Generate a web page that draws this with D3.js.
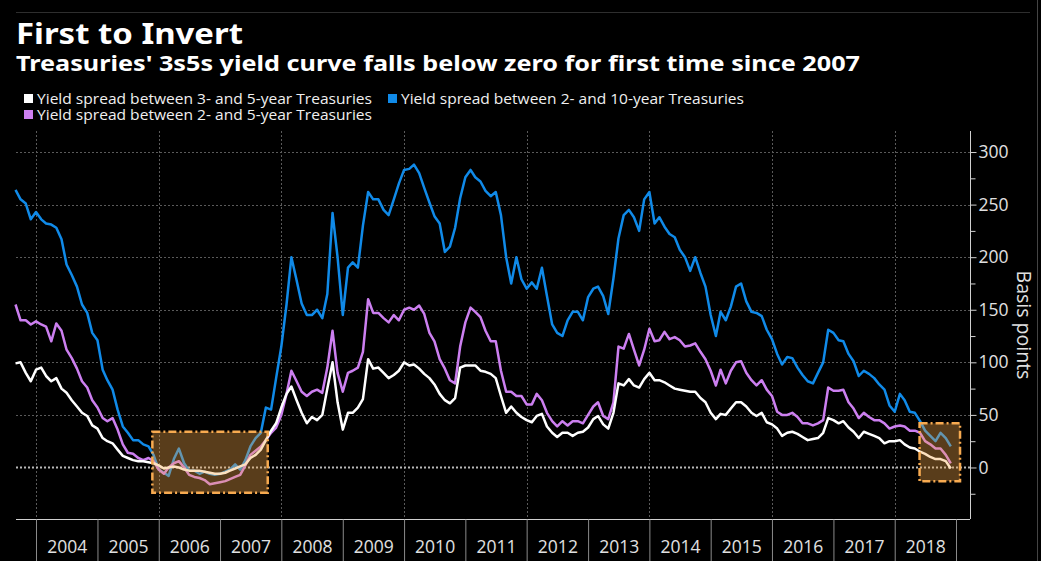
<!DOCTYPE html>
<html><head><meta charset="utf-8">
<script src="https://cdn.jsdelivr.net/npm/d3@7"></script>
<style>html,body{margin:0;padding:0;background:#000;} svg{display:block}</style>
</head><body>
<svg id="c" width="1041" height="561"></svg>
<script>
// ---- data (monthly observations, basis points) ----
const firstMonth = "2003-09-01";
const spread3s5s = [
  99,100,90,82,
  93,95,87,82,85,75,71,64,58,52,49,40,
  37,28,25,23,17,11,9,7,6,6,5,4,
  2,-1,0,1,0,-2,-3,-3,-3,-4,-5,-6,
  -6,-5,-3,-1,1,3,9,12,17,26,35,42,
  57,70,77,64,52,42,48,45,50,75,100,62,
  36,52,52,57,65,103,94,95,90,85,88,92,
  100,97,98,94,89,85,79,70,64,61,66,95,
  97,97,97,92,91,89,85,68,52,58,52,48,
  45,43,49,51,39,33,29,33,33,30,33,34,
  38,46,49,41,37,52,80,78,84,78,76,84,
  90,83,83,81,78,75,74,73,72,72,66,62,
  52,46,51,50,56,62,62,58,52,49,52,43,
  41,37,30,33,34,32,29,26,27,28,33,47,
  45,42,44,38,34,28,34,32,30,28,23,25,
  25,26,22,19,18,15,13,10,8,8,6,-1
];
const spread2s10s = [
  264,255,251,236,
  243,236,232,231,228,217,193,183,172,155,147,128,
  121,93,83,74,55,39,33,26,26,22,20,12,
  -2,-5,-8,8,18,4,-3,-3,-6,-4,-6,-7,
  -6,-4,-2,3,-2,7,20,28,33,57,55,85,
  115,155,200,178,156,145,145,150,142,165,242,200,
  145,190,195,190,230,262,255,255,245,240,255,270,
  283,284,288,280,266,252,239,232,205,210,228,256,
  276,283,276,272,263,258,262,240,200,175,200,179,
  170,176,170,190,163,136,128,125,140,148,148,140,
  162,170,172,163,146,180,218,240,245,238,225,255,
  262,232,238,229,222,219,207,200,187,200,185,172,
  145,125,148,140,153,172,175,158,148,147,144,131,
  122,108,98,105,104,95,88,82,80,90,100,131,
  128,121,120,108,101,87,92,89,85,79,74,59,
  53,70,64,53,52,44,35,30,25,33,28,20
];
const spread2s5s = [
  155,140,140,136,
  139,136,134,120,137,130,112,104,94,82,76,64,
  57,47,44,47,36,22,14,13,9,7,9,6,
  -2,-6,0,4,6,0,-7,-9,-10,-12,-16,-15,
  -14,-13,-11,-9,-7,2,12,16,20,26,33,38,
  50,70,92,82,72,68,72,74,71,95,130,90,
  72,90,92,95,110,160,147,147,142,138,145,140,
  150,152,150,154,146,128,120,103,94,83,80,115,
  138,152,148,143,130,120,120,92,72,72,68,68,
  60,60,70,64,52,44,39,44,40,44,44,42,
  50,58,62,49,46,62,115,113,127,112,97,112,
  132,120,121,129,122,124,121,115,116,118,110,103,
  92,78,93,80,92,100,101,90,83,78,83,74,
  68,53,50,50,52,48,42,42,40,42,45,76,
  73,73,74,62,56,47,52,48,45,45,42,37,
  39,40,39,35,35,33,25,22,18,18,12,4
];
const yearLabels = ["2004","2005","2006","2007","2008","2009","2010","2011","2012","2013","2014","2015","2016","2017","2018"];
const yMajorTicks = [0,50,100,150,200,250,300];
const yMinorTicks = [-25,25,75,125,175,225,275];
const highlightBoxes = [
  {from:"2005-11-24", to:"2007-10-12", low:-24, high:34},
  {from:"2018-05-29", to:"2019-01-25", low:-13, high:42}
];
const seriesNames = [
  "Yield spread between 3- and 5-year Treasuries",
  "Yield spread between 2- and 10-year Treasuries",
  "Yield spread between 2- and 5-year Treasuries"
];
const seriesColors = ["#ffffff","#108ae8","#cc7ff0"];

// ---- chart ----
const svg = d3.select("#c");
const W = 1041, H = 561;
const plotL = 16, plotR = 970, plotT = 131, plotB = 519;
const parse = d3.utcParse("%Y-%m-%d");
const start = parse(firstMonth);
const dates = spread3s5s.map((_, i) => d3.utcMonth.offset(start, i));

const x = d3.scaleUtc()
  .domain([new Date(Date.UTC(2004,0,1)), new Date(Date.UTC(2019,0,1))])
  .range([36, 956]);
const y = d3.scaleLinear().domain([-49, 320]).range([plotB, plotT]);

svg.append("rect").attr("width", W).attr("height", H).attr("fill", "#000");
svg.append("line").attr("x1", plotL).attr("x2", 1030).attr("y1", 12.5).attr("y2", 12.5)
  .attr("stroke", "#2e2e2e").attr("stroke-width", 1);
svg.append("line").attr("x1", 1037.5).attr("x2", 1037.5).attr("y1", 0).attr("y2", H)
  .attr("stroke", "#444").attr("stroke-width", 1);

// titles
const fontMain = "'Noto Sans', 'Open Sans', sans-serif";
svg.append("text").attr("x", 16).attr("y", 44).text("First to Invert")
  .attr("fill", "#fff").attr("font-family", fontMain).attr("font-weight", "bold")
  .attr("font-size", 29).attr("textLength", 227).attr("lengthAdjust", "spacingAndGlyphs");
svg.append("text").attr("x", 16).attr("y", 71)
  .text("Treasuries' 3s5s yield curve falls below zero for first time since 2007")
  .attr("fill", "#fff").attr("font-family", fontMain).attr("font-weight", "bold")
  .attr("font-size", 21.5).attr("textLength", 844).attr("lengthAdjust", "spacingAndGlyphs");

// legend
const legendPos = [{sx:24, ty:104, tl:335}, {sx:388, ty:104, tl:343}, {sx:24, ty:120, tl:335}];
seriesNames.forEach((n, i) => {
  const p = legendPos[i];
  svg.append("rect").attr("x", p.sx).attr("y", p.ty - 10).attr("width", 9).attr("height", 9)
    .attr("fill", seriesColors[i]);
  svg.append("text").attr("x", p.sx + 13).attr("y", p.ty).text(n)
    .attr("fill", "#f0f0f0").attr("font-family", "'Open Sans', sans-serif").attr("font-size", 14)
    .attr("textLength", p.tl).attr("lengthAdjust", "spacingAndGlyphs");
});

// grid
const g = svg.append("g");
g.selectAll(".hg").data(yMajorTicks.filter(v => v !== 0)).join("line")
  .attr("x1", plotL).attr("x2", plotR).attr("y1", d => Math.round(y(d)) + 0.5).attr("y2", d => Math.round(y(d)) + 0.5)
  .attr("stroke", "#5a5a5a").attr("stroke-width", 1).attr("stroke-dasharray", "2,2");
const evenYears = yearLabels.filter(yl => (+yl) % 2 === 0).map(yl => new Date(Date.UTC(+yl,0,1)));
g.selectAll(".vg").data(evenYears).join("line")
  .attr("x1", d => Math.round(x(d)) + 0.5).attr("x2", d => Math.round(x(d)) + 0.5)
  .attr("y1", plotT).attr("y2", plotB)
  .attr("stroke", "#5a5a5a").attr("stroke-width", 1).attr("stroke-dasharray", "2,2");

// zero line
g.append("line").attr("x1", plotL).attr("x2", plotR).attr("y1", y(0)).attr("y2", y(0))
  .attr("stroke", "#b8b8b8").attr("stroke-width", 2).attr("stroke-dasharray", "2,2");

// series
const seriesData = [spread2s10s, spread2s5s, spread3s5s];
const seriesCol = [seriesColors[1], seriesColors[2], seriesColors[0]];
const line = d3.line().x((d, i) => x(dates[i])).y(d => y(d)).curve(d3.curveLinear);
seriesData.forEach((s, k) => {
  svg.append("path").datum(s).attr("d", line).attr("fill", "none")
    .attr("stroke", seriesCol[k]).attr("stroke-width", 2.5).attr("stroke-linejoin", "round");
});

// highlight boxes
highlightBoxes.forEach(b => {
  const x0 = x(parse(b.from)), x1 = x(parse(b.to));
  svg.append("rect").attr("x", x0).attr("y", y(b.high))
    .attr("width", x1 - x0).attr("height", y(b.low) - y(b.high))
    .attr("fill", "rgba(247,168,74,0.36)").attr("stroke", "#f7aa50").attr("stroke-width", 2.5)
    .attr("stroke-dasharray", "8,3,2,3");
});

// right axis
const axisColor = "#d0d0d0";
svg.append("line").attr("x1", plotR + 0.5).attr("x2", plotR + 0.5).attr("y1", plotT).attr("y2", plotB)
  .attr("stroke", axisColor).attr("stroke-width", 1);
const yAx = svg.append("g").attr("transform", `translate(${plotR + 0.5},0)`)
  .call(d3.axisRight(y).tickValues(yMajorTicks).tickSize(6).tickPadding(2));
yAx.select(".domain").remove();
yAx.selectAll("line").attr("stroke", axisColor);
yAx.selectAll("text").attr("fill", "#e0e0e0").attr("font-family", "'Open Sans', sans-serif")
  .attr("font-size", 17.5);
const yMin = svg.append("g").attr("transform", `translate(${plotR + 0.5},0)`)
  .call(d3.axisRight(y).tickValues(yMinorTicks).tickSize(5).tickFormat(""));
yMin.select(".domain").remove();
yMin.selectAll("line").attr("stroke", axisColor);

svg.append("text").attr("transform", `translate(1017, ${(264 + 386) / 2}) rotate(90)`)
  .attr("text-anchor", "middle").text("Basis points")
  .attr("fill", "#e0e0e0").attr("font-family", "'Open Sans', sans-serif").attr("font-size", 19.5);

// bottom axis
svg.append("line").attr("x1", plotL).attr("x2", plotR).attr("y1", plotB + 0.5).attr("y2", plotB + 0.5)
  .attr("stroke", axisColor).attr("stroke-width", 1);
const yearStarts = yearLabels.map(yl => new Date(Date.UTC(+yl,0,1))).concat([new Date(Date.UTC(2019,0,1))]);
const xAx = svg.append("g").attr("transform", `translate(0,${plotB + 0.5})`)
  .call(d3.axisBottom(x).tickValues(yearStarts).tickSize(45).tickFormat(""));
xAx.select(".domain").remove();
xAx.selectAll("line").attr("stroke", "#8a8a8a");
const yearMids = yearLabels.map(yl => new Date(Date.UTC(+yl,6,2)));
const xLab = svg.append("g").attr("transform", `translate(0,${plotB + 0.5})`)
  .call(d3.axisBottom(x).tickValues(yearMids).tickSize(0).tickPadding(21)
    .tickFormat((d, i) => yearLabels[i]));
xLab.select(".domain").remove();
xLab.selectAll("text").attr("fill", "#e0e0e0").attr("font-family", "'Open Sans', sans-serif")
  .attr("font-size", 17.5);
</script>
</body></html>
